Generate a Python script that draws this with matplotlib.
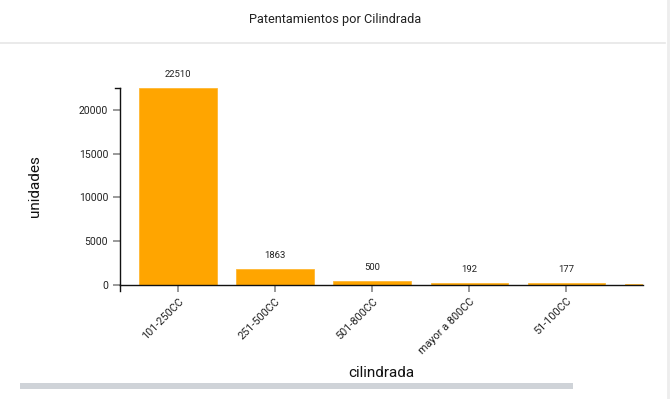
import matplotlib.pyplot as plt
import numpy as np

plt.rcParams['figure.dpi'] = 100
plt.rcParams['font.family'] = ['Roboto', 'DejaVu Sans']

categorias = ['101-250CC', '251-500CC', '501-800CC', 'mayor a 800CC', '51-100CC', 'hasta 50CC']
unidades = [22510, 1863, 500, 192, 177, 90]
yticks = [0, 5000, 10000, 15000, 20000]

fig = plt.figure(figsize=(6.71, 3.99))
ax = fig.add_axes([120/671, 1 - 285/399, (643 - 120)/671, (285 - 88)/399])

x = np.arange(len(categorias))
ax.bar(x, unidades, width=0.8, color='#FFA500', edgecolor='#FFB732', linewidth=0.6)

ax.set_yticks(yticks)
ax.set_yticklabels([str(t) for t in yticks], fontsize=7.5)
ax.set_xticks(x)
ax.set_xticklabels(categorias, rotation=45, ha='right', rotation_mode='anchor', fontsize=7.8)
ax.tick_params(axis='both', colors='#888888', length=5, width=1.2, labelcolor='#222222')
ax.tick_params(axis='x', pad=3)

for s in ['top', 'right']:
    ax.spines[s].set_visible(False)
for s in ['left', 'bottom']:
    ax.spines[s].set_color('#111111')
    ax.spines[s].set_linewidth(1.0)

ax.set_ylabel('unidades', fontsize=11, color='#111111')
ax.yaxis.set_label_coords(-0.15, 0.5)
ax.set_xlabel('cilindrada', fontsize=11, color='#111111')
ax.xaxis.set_label_coords(0.5, -0.41)

# la vista esta recortada a la derecha (el ultimo grupo queda fuera)
ax.set_autoscale_on(False)
ax.set_xlim(-0.6, 4.79)
ax.set_ylim(0, max(unidades))

for xi, v in zip(x, unidades):
    if xi <= 4.79:
        ax.annotate(str(v), (xi, v), xytext=(0, 6.5), textcoords='offset points',
                    ha='center', va='bottom', fontsize=6.8, color='#222222')

# marcas en los extremos de los ejes
ax.plot([0, 0], [0, -0.03], transform=ax.transAxes, color='#111111', lw=1, clip_on=False)
ax.plot([0, -0.01], [1, 1], transform=ax.transAxes, color='#111111', lw=1, clip_on=False)

# titulo y separadores de la tarjeta
fig.text(335/671, 1 - 19/399, 'Patentamientos por Cilindrada', ha='center', va='center',
         fontsize=9.2, color='#222222')
fig.add_artist(plt.Line2D([0, 665/671], [1 - 43/399, 1 - 43/399], color='#E6E6E6', lw=1.2))
fig.add_artist(plt.Line2D([668/671, 668/671], [0, 1], color='#EDEDED', lw=2))
fig.add_artist(plt.Rectangle((20/671, 1 - 389/399), (573 - 20)/671, 6/399,
                             color='#CFD3D8', lw=0))

fig.savefig('out.png', dpi=100)
